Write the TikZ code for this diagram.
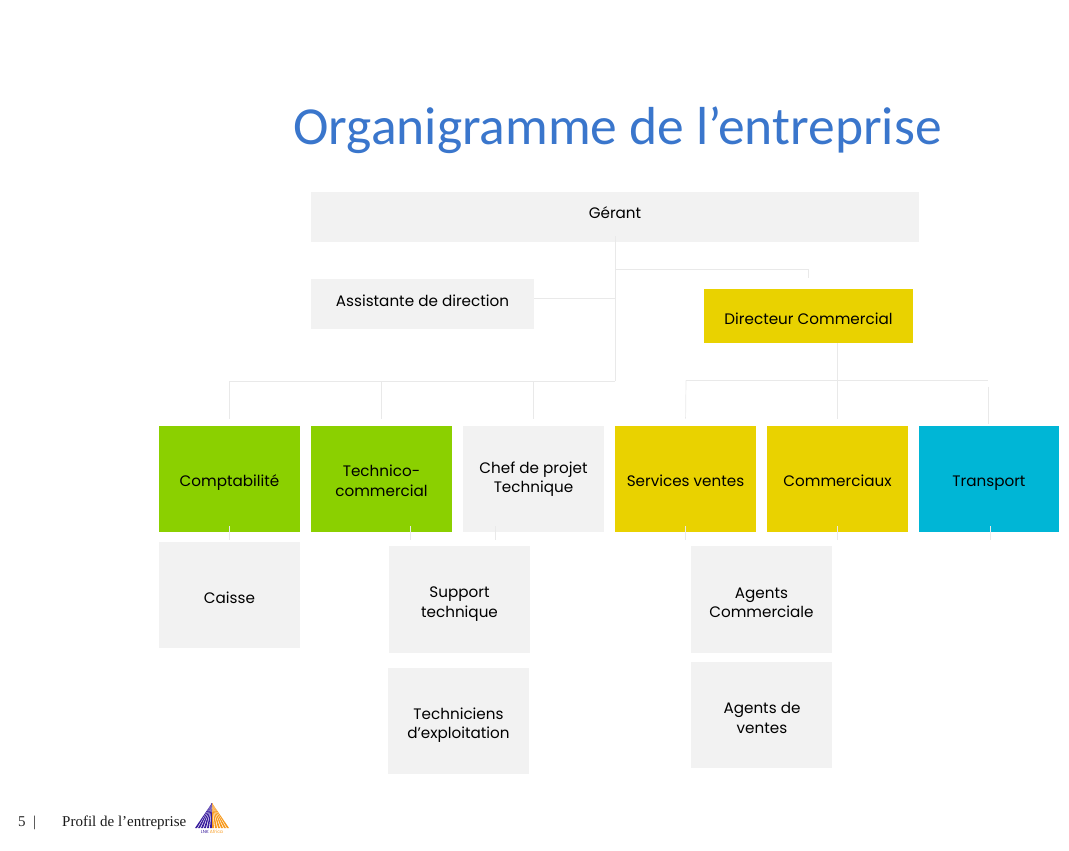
\documentclass[tikz,border=0pt]{standalone}
\usepackage{fontspec}
\setmainfont{Poppins}
\newfontfamily\titlefont{Carlito}
\newfontfamily\footfont{Liberation Serif}
\definecolor{boxgray}{HTML}{F2F2F2}
\definecolor{linegray}{HTML}{E9E9E9}
\definecolor{leafgreen}{HTML}{8BD000}
\definecolor{gold}{HTML}{E9D200}
\definecolor{teal}{HTML}{00B6D6}
\definecolor{titleblue}{HTML}{3A76CC}
\definecolor{logoviolet}{HTML}{3A1E9E}
\definecolor{logoorange}{HTML}{F79A1E}
\tikzset{
  poste/.style={fill=boxgray, inner sep=0pt},
  grandbox/.style={poste, minimum width=141pt, minimum height=106.5pt},
  etiq/.style={inner sep=0pt, align=center, font=\fontsize{15.2}{19.5}\selectfont},
  link/.style={draw=linegray, line width=0.7pt},
}
\begin{document}
\begin{tikzpicture}[x=1pt, y=-1pt]
  \useasboundingbox (0,0) rectangle (1069,851);

  \node[font=\titlefont\fontsize{53.5}{54}\selectfont, text=titleblue] (titre) at (617.5,130) {Organigramme de l’entreprise};

  \node[poste, minimum width=608pt, minimum height=50pt] (gerant) at (615,217) {};
  \node[poste, minimum width=223pt, minimum height=50pt] (assistante) at (422.5,304) {};
  \node[poste, fill=gold, minimum width=209pt, minimum height=54pt] (directeur) at (808.5,316) {};

  \node[grandbox, fill=leafgreen] (compta) at (229.5,479) {};
  \node[grandbox, fill=leafgreen] (techno) at (381.5,479) {};
  \node[grandbox] (chef) at (533.5,479) {};
  \node[grandbox, fill=gold] (services) at (685.5,479) {};
  \node[grandbox, fill=gold] (commerciaux) at (837.5,479) {};
  \node[grandbox, fill=teal, minimum width=140pt] (transport) at (989,479) {};

  \node[grandbox] (caisse) at (229.5,595) {};
  \node[grandbox] (support) at (459.5,599.5) {};
  \node[grandbox] (exploit) at (458.5,721) {};
  \node[grandbox] (agentscom) at (761.5,599.5) {};
  \node[grandbox] (agentsvte) at (761.5,715) {};

  % textes des cases
  \foreach \n/\x/\y/\t in {gerant/615/213/Gérant,
      assistante/422.5/301/Assistante de direction,
      directeur/808.5/319/Directeur Commercial,
      compta/229.5/483/Comptabilité,
      techno/381.5/481/{Technico-\\commercial},
      chef/533.5/479/{Chef de projet\\Technique},
      services/685.5/481/Services ventes,
      commerciaux/837.5/481/Commerciaux,
      transport/989/483/Transport,
      caisse/229.5/598/Caisse,
      support/459.5/604/{Support\\technique},
      exploit/458.5/725/{Techniciens\\d’exploitation},
      agentscom/761.5/603/{Agents\\Commerciale},
      agentsvte/762/718/{Agents de\\ventes}}
    \node[etiq] (\n-texte) at (\x,\y) {\t};

  % liaisons du haut
  \coordinate (nordbus) at (615,381);
  \coordinate (sudbus) at (686,380.5);
  \coordinate (sudfin) at (988,380.5);
  \coordinate (dirstub) at (615,269);
  \coordinate (assistbranch) at (615,298);
  \draw[link, shorten <=-6pt] (gerant.south) -- (nordbus);
  \draw[link] (assistbranch -| assistante.east) -- (assistbranch);
  \draw[link, shorten >=11pt] (dirstub) -| (directeur.north);
  \foreach \n in {compta,techno,chef}
    \draw[link, shorten >=7pt] (nordbus) -| (\n.north);
  \draw[link, shorten >=7pt] (directeur.south -| commerciaux.north) -- (commerciaux.north);
  \draw[link, shorten >=7pt] (sudbus) -- (services.north);
  \draw[link] (sudbus) -- (sudfin);
  \draw[link, shorten <=6pt, shorten >=2pt] (sudfin) -- (sudfin |- transport.north);

  % petits bouts sous les cases
  \foreach \n/\dx in {compta/0,techno/29,chef/-38.5,services/0,commerciaux/0,transport/1}
    \draw[link] ([xshift=\dx pt,yshift=6pt]\n.south) -- ++(0,14);

  % pied de page
  \node[font=\footfont\fontsize{15}{15}\selectfont, text=black!85, anchor=west, inner sep=0pt] (numero) at (18,823) {5\,\,\,|};
  \node[font=\footfont\fontsize{15}{15}\selectfont, text=black!90, anchor=west, inner sep=0pt] (rubrique) at (62,823) {Profil de l’entreprise};

  % logo
  \foreach \x in {195,198,...,210}
    \fill[logoviolet] (212,803) -- (\x,828) -- (\x+2,828) -- cycle;
  \foreach \x in {212,215,...,227}
    \fill[logoorange] (212,803) -- (\x,828) -- (\x+2,828) -- cycle;
  \node[font=\fontsize{4.5}{5}\selectfont, text=logoviolet, inner sep=0pt] (logotexte) at (212,831.5) {LNK \textcolor{logoorange}{Africa}};
\end{tikzpicture}
\end{document}
